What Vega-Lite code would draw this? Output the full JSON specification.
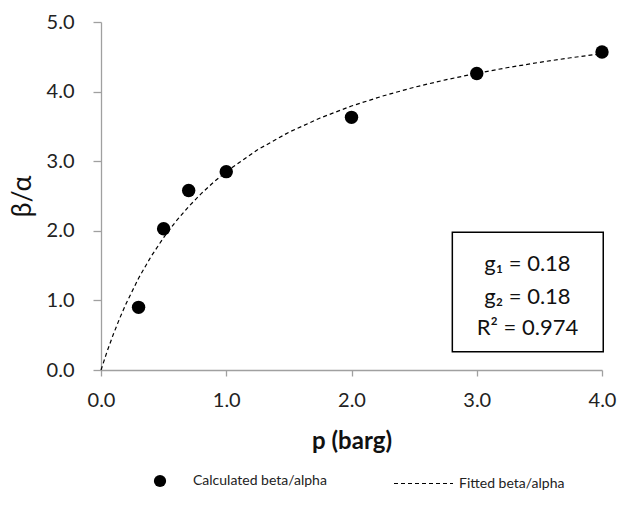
{
  "$schema": "https://vega.github.io/schema/vega-lite/v6.json",
  "width": 501,
  "height": 348,
  "autosize": {"type": "none"},
  "padding": {"left": 101, "top": 22, "right": 19, "bottom": 137},
  "background": "white",
  "config": {
    "view": {"stroke": null},
    "font": "Lato",
    "axis": {"grid": false, "domainColor": "#a0a0a0", "tickColor": "#a0a0a0", "domainWidth": 1.3, "tickWidth": 1.3, "labelFont": "Lato", "labelFontSize": 20, "labelColor": "#222222", "titleFont": "Lato", "titleColor": "#111111", "labelFlush": false, "labelOverlap": false}
  },
  "datasets": {
    "obs": [
      {"p": 0.3, "v": 0.9, "series": "Calculated beta/alpha"},
      {"p": 0.5, "v": 2.03, "series": "Calculated beta/alpha"},
      {"p": 0.7, "v": 2.58, "series": "Calculated beta/alpha"},
      {"p": 1.0, "v": 2.85, "series": "Calculated beta/alpha"},
      {"p": 2.0, "v": 3.63, "series": "Calculated beta/alpha"},
      {"p": 3.0, "v": 4.26, "series": "Calculated beta/alpha"},
      {"p": 4.0, "v": 4.57, "series": "Calculated beta/alpha"}
    ],
    "fit": [
      {"p": 0, "v": 0, "series": "Fitted beta/alpha"}, {"p": 0.05, "v": 0.273, "series": "Fitted beta/alpha"},
      {"p": 0.1, "v": 0.52, "series": "Fitted beta/alpha"}, {"p": 0.15, "v": 0.746, "series": "Fitted beta/alpha"},
      {"p": 0.2, "v": 0.953, "series": "Fitted beta/alpha"}, {"p": 0.3, "v": 1.319, "series": "Fitted beta/alpha"},
      {"p": 0.4, "v": 1.632, "series": "Fitted beta/alpha"}, {"p": 0.5, "v": 1.903, "series": "Fitted beta/alpha"},
      {"p": 0.6, "v": 2.14, "series": "Fitted beta/alpha"}, {"p": 0.7, "v": 2.349, "series": "Fitted beta/alpha"},
      {"p": 0.8, "v": 2.534, "series": "Fitted beta/alpha"}, {"p": 0.9, "v": 2.7, "series": "Fitted beta/alpha"},
      {"p": 1.0, "v": 2.849, "series": "Fitted beta/alpha"}, {"p": 1.25, "v": 3.164, "series": "Fitted beta/alpha"},
      {"p": 1.5, "v": 3.416, "series": "Fitted beta/alpha"}, {"p": 1.75, "v": 3.621, "series": "Fitted beta/alpha"},
      {"p": 2.0, "v": 3.793, "series": "Fitted beta/alpha"}, {"p": 2.25, "v": 3.937, "series": "Fitted beta/alpha"},
      {"p": 2.5, "v": 4.062, "series": "Fitted beta/alpha"}, {"p": 2.75, "v": 4.169, "series": "Fitted beta/alpha"},
      {"p": 3.0, "v": 4.263, "series": "Fitted beta/alpha"}, {"p": 3.25, "v": 4.346, "series": "Fitted beta/alpha"},
      {"p": 3.5, "v": 4.42, "series": "Fitted beta/alpha"}, {"p": 3.75, "v": 4.486, "series": "Fitted beta/alpha"},
      {"p": 4.0, "v": 4.545, "series": "Fitted beta/alpha"}
    ],
    "box": [{"x1": 2.805, "x2": 4.01, "y1": 0.263, "y2": 1.98}],
    "notes": [
      {"p": 3.405, "v": 1.53, "t": "g₁ = 0.18"},
      {"p": 3.405, "v": 1.05, "t": "g₂ = 0.18"},
      {"p": 3.405, "v": 0.6, "t": "R² = 0.974"}
    ]
  },
  "layer": [
    {
      "data": {"name": "fit"},
      "mark": {"type": "line", "color": "black", "strokeWidth": 1.2},
      "encoding": {
        "x": {"field": "p", "type": "quantitative", "scale": {"domain": [0, 4], "nice": false},
          "axis": {"values": [0, 1, 2, 3, 4], "format": ".1f", "title": "p (barg)", "titleFontSize": 24, "titleFontWeight": "bold", "titlePadding": 19, "labelPadding": 14, "tickSize": 6}},
        "y": {"field": "v", "type": "quantitative", "scale": {"domain": [0, 5], "nice": false},
          "axis": {"values": [0, 1, 2, 3, 4, 5], "format": ".1f", "title": "β/α", "titleFontSize": 27, "titleFontWeight": "normal", "titlePadding": 10, "labelPadding": 19, "tickSize": 8}},
        "strokeDash": {"field": "series", "type": "nominal",
          "scale": {"domain": ["Fitted beta/alpha"], "range": [[4, 3]]},
          "legend": {"title": null, "orient": "none", "legendX": 292, "legendY": 431, "symbolType": "stroke", "symbolSize": 3481, "symbolStrokeColor": "black", "symbolStrokeWidth": 1.2, "labelFontSize": 14, "labelFont": "Lato", "labelColor": "#222222", "labelOffset": 5}}
      }
    },
    {
      "data": {"name": "obs"},
      "mark": {"type": "point", "filled": true, "color": "black", "opacity": 1, "size": 180},
      "encoding": {
        "x": {"field": "p", "type": "quantitative"},
        "y": {"field": "v", "type": "quantitative"},
        "shape": {"field": "series", "type": "nominal",
          "scale": {"domain": ["Calculated beta/alpha"], "range": ["circle"]},
          "legend": {"title": null, "orient": "none", "legendX": 52, "legendY": 452, "symbolSize": 150, "symbolFillColor": "black", "symbolStrokeColor": "black", "labelFontSize": 14, "labelFont": "Lato", "labelColor": "#222222", "labelOffset": 26}}
      }
    },
    {
      "data": {"name": "box"},
      "mark": {"type": "rect", "fill": "white", "stroke": "black", "strokeWidth": 1.5},
      "encoding": {
        "x": {"field": "x1", "type": "quantitative"},
        "x2": {"field": "x2"},
        "y": {"field": "y1", "type": "quantitative"},
        "y2": {"field": "y2"}
      }
    },
    {
      "data": {"name": "notes"},
      "mark": {"type": "text", "fontSize": 22, "font": "Lato", "color": "#111111", "align": "center", "baseline": "middle"},
      "encoding": {
        "x": {"field": "p", "type": "quantitative"},
        "y": {"field": "v", "type": "quantitative"},
        "text": {"field": "t"}
      }
    }
  ]
}
